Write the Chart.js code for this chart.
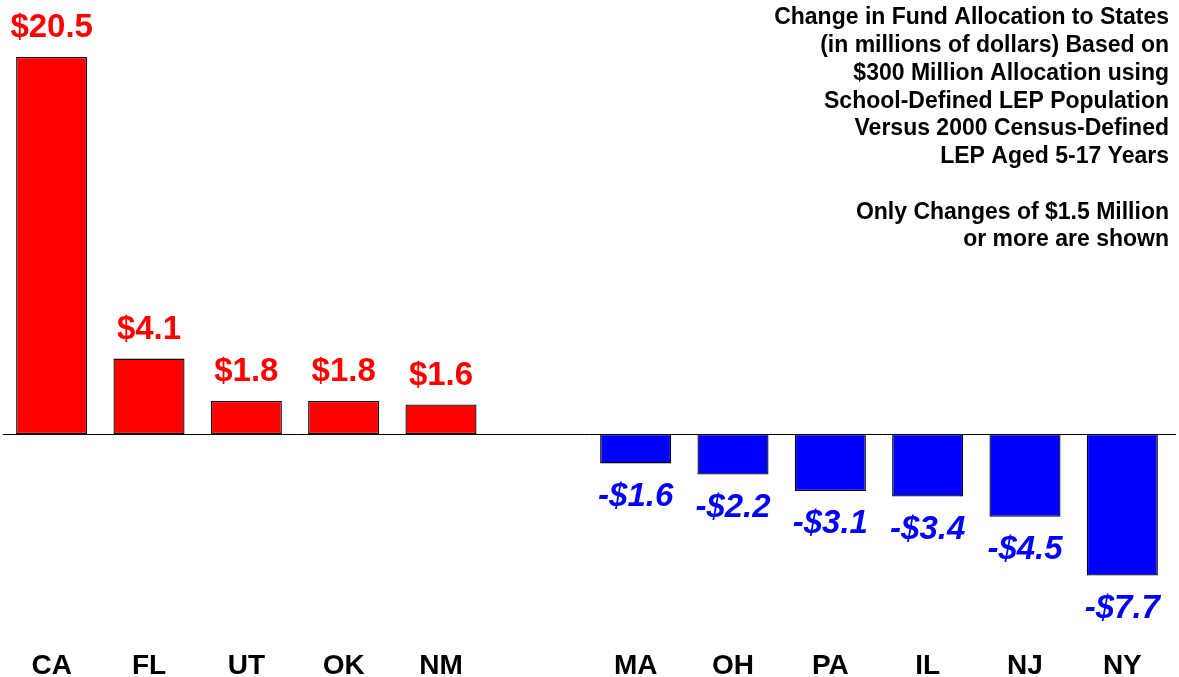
<!DOCTYPE html>
<html>
<head>
<meta charset="utf-8">
<script src="https://cdn.jsdelivr.net/npm/chart.js@4.4.1/dist/chart.umd.min.js"></script>
<style>
html,body{margin:0;padding:0;background:#fff;}
#wrap{width:1179px;height:677px;position:relative;}
</style>
</head>
<body>
<div id="wrap"><canvas id="c" width="1179" height="677"></canvas></div>
<script>
const states = ['CA','FL','UT','OK','NM','','MA','OH','PA','IL','NJ','NY'];
const changes = [20.5, 4.1, 1.8, 1.8, 1.6, null, -1.6, -2.2, -3.1, -3.4, -4.5, -7.7];
const titleLines = [
  'Change in Fund Allocation to States',
  '(in millions of dollars) Based on',
  '$300 Million Allocation using',
  'School-Defined LEP Population',
  'Versus 2000 Census-Defined',
  'LEP Aged 5-17 Years',
  '',
  'Only Changes of $1.5 Million',
  'or more are shown'
];
const posColor = '#FF0000';
const negColor = '#0000FF';

const FONT = '"Liberation Sans", Arial, Helvetica, sans-serif';

const overlay = {
  id: 'overlay',
  beforeDatasetsDraw(chart) {
    const ctx = chart.ctx;
    const y0 = chart.scales.y.getPixelForValue(0);
    ctx.save();
    ctx.strokeStyle = '#000';
    ctx.lineWidth = 1;
    ctx.beginPath();
    ctx.moveTo(3, Math.round(y0) + 0.5);
    ctx.lineTo(1176, Math.round(y0) + 0.5);
    ctx.stroke();
    ctx.restore();
  },
  afterDatasetsDraw(chart) {
    const ctx = chart.ctx;
    const meta = chart.getDatasetMeta(0);
    const xs = chart.scales.x;
    ctx.save();
    ctx.textAlign = 'center';
    ctx.textBaseline = 'alphabetic';
    meta.data.forEach((bar, i) => {
      const v = changes[i];
      if (v === null || v === undefined) return;
      if (v >= 0) {
        ctx.font = 'bold 33px ' + FONT;
        ctx.fillStyle = posColor;
        ctx.fillText('$' + v.toFixed(1), bar.x, bar.y - 20);
      } else {
        ctx.font = 'italic bold 33px ' + FONT;
        ctx.fillStyle = negColor;
        ctx.fillText('-$' + Math.abs(v).toFixed(1), bar.x, bar.y + 42.5);
      }
    });
    // category labels
    ctx.font = 'bold 28px ' + FONT;
    ctx.fillStyle = '#000';
    ctx.textBaseline = 'alphabetic';
    states.forEach((s, i) => {
      if (s) ctx.fillText(s, xs.getPixelForValue(i), 674);
    });
    // title block
    ctx.textAlign = 'right';
    ctx.textBaseline = 'middle';
    ctx.font = 'bold 23px ' + FONT;
    titleLines.forEach((t, i) => {
      if (t) ctx.fillText(t, 1169, 18 + i * 27.75);
    });
    ctx.restore();
  }
};

new Chart(document.getElementById('c'), {
  type: 'bar',
  data: {
    labels: states,
    datasets: [{
      data: changes,
      backgroundColor: changes.map(v => v !== null && v < 0 ? negColor : posColor),
      borderColor: '#000',
      borderWidth: 1.3,
      borderSkipped: false,
      barPercentage: 0.73,
      categoryPercentage: 1.0
    }]
  },
  options: {
    responsive: false,
    animation: false,
    devicePixelRatio: 1,
    layout: { padding: { left: 3, right: 8, top: 29.4, bottom: 77.5 } },
    plugins: { legend: { display: false }, tooltip: { enabled: false }, title: { display: false } },
    scales: {
      x: {
        grid: { display: false, drawTicks: false },
        border: { display: false },
        ticks: { display: false }
      },
      y: {
        display: false,
        min: -9,
        max: 22
      }
    }
  },
  plugins: [overlay]
});
</script>
</body>
</html>
